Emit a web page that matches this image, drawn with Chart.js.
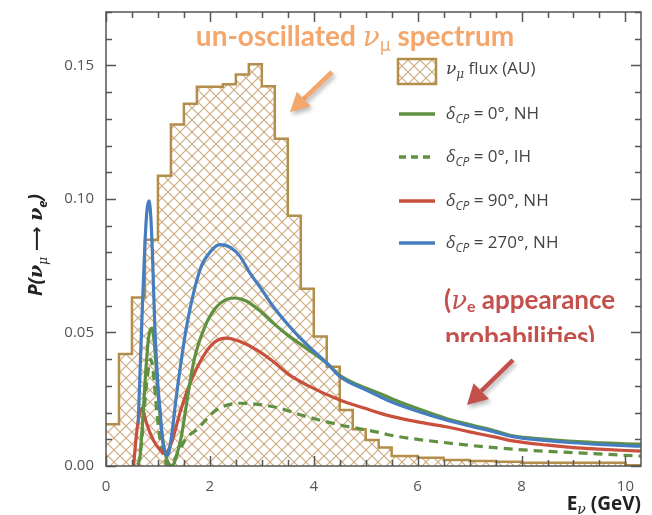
<!DOCTYPE html>
<html><head><meta charset="utf-8">
<script src="https://cdn.jsdelivr.net/npm/chart.js@4/dist/chart.umd.min.js"></script>
<style>html,body{margin:0;padding:0;background:#fff}</style>
</head><body>
<canvas id="c" width="652" height="515"></canvas>
<script>
// ---------- data ----------
const fluxBinEdges = [0,0.25,0.5,0.75,1.0,1.25,1.5,1.75,2.0,2.25,2.5,2.75,3.0,3.25,3.5,3.75,4.0,4.25,4.5,4.75,5.0,5.25,5.5,6.0,6.5,7.0,7.5,8.0,10.0,10.3];
const fluxValues   = [0.0156,0.0419,0.0631,0.0847,0.1087,0.1279,0.1356,0.1420,0.1420,0.1429,0.1466,0.1504,0.1422,0.1225,0.0937,0.0664,0.0485,0.0372,0.0210,0.0138,0.0097,0.0069,0.0037,0.0031,0.0022,0.0019,0.0016,0.0012,0.0003];

const energy270NH = [0.62,0.686,0.75,0.79,0.827,0.86,0.897,0.94,1.0,1.04,1.09,1.19,1.26,1.36,1.55,1.81,2.0,2.19,2.4,2.58,2.77,3.0,3.22,3.5,3.86,4.28,4.5,5.0,5.27,5.5,6.0,6.55,7.0,7.5,7.83,8.5,9.0,9.5,10.0,10.3];
const prob270NH   = [0.016,0.052,0.0835,0.096,0.0993,0.094,0.078,0.052,0.030,0.021,0.0094,0.0041,0.011,0.027,0.052,0.0735,0.080,0.0829,0.0818,0.0785,0.0723,0.066,0.0597,0.053,0.0455,0.038,0.0335,0.0285,0.026,0.0240,0.0205,0.0172,0.0150,0.0127,0.0110,0.0095,0.0087,0.0081,0.0076,0.0074];

const energy0NH = [0.65,0.70,0.76,0.82,0.88,0.93,0.98,1.04,1.1,1.18,1.28,1.36,1.45,1.58,1.7,1.9,2.1,2.3,2.48,2.7,3.0,3.22,3.5,3.86,4.28,4.5,5.0,5.27,5.5,6.0,6.55,7.0,7.5,7.83,8.5,9.0,9.5,10.0,10.3];
const prob0NH   = [0.002,0.015,0.034,0.048,0.0516,0.046,0.033,0.019,0.009,0.002,0.0,0.004,0.011,0.027,0.040,0.052,0.059,0.0622,0.0629,0.0618,0.0575,0.0535,0.049,0.0440,0.038,0.0340,0.0292,0.0272,0.0252,0.0215,0.0178,0.0155,0.0131,0.0113,0.0100,0.0092,0.0087,0.0083,0.0082];

const energy0IH = [0.62,0.68,0.74,0.80,0.86,0.91,0.97,1.04,1.12,1.19,1.3,1.39,1.55,1.74,2.13,2.58,3.22,3.86,4.5,5.27,5.46,6.55,7.83,9.0,10.3];
const prob0IH   = [0.0,0.008,0.022,0.034,0.040,0.035,0.022,0.010,0.003,0.0,0.002,0.005,0.0105,0.0135,0.021,0.0235,0.0222,0.0185,0.0154,0.0125,0.0116,0.0087,0.0063,0.0050,0.0037];

const energy90NH = [0.53,0.59,0.64,0.69,0.74,0.78,0.91,1.04,1.13,1.26,1.42,1.62,1.87,2.1,2.32,2.58,2.9,3.22,3.5,3.86,4.5,5.0,5.27,5.5,6.0,6.55,7.0,7.5,7.83,8.5,9.0,9.5,10.0,10.3];
const prob90NH   = [0.0,0.0124,0.019,0.0216,0.019,0.016,0.0097,0.006,0.0047,0.0086,0.0197,0.031,0.041,0.0465,0.0479,0.0466,0.0435,0.0391,0.0345,0.0304,0.0247,0.0215,0.0198,0.0186,0.0165,0.0147,0.0128,0.0108,0.0094,0.0078,0.0069,0.0063,0.0058,0.0056];

const yTickLabels = ['0.00','0.05','0.10','0.15'];
const xTickLabels = ['0','2','4','6','8','10'];
const legendLabels = ['flux (AU)', '= 0°, NH', '= 0°, IH', '= 90°, NH', '= 270°, NH'];

// ---------- helpers ----------
const pts = (xs, ys) => xs.map((x, i) => ({x, y: ys[i]}));
function histPoints(edges, vals){
  const p = vals.map((v, i) => ({x: edges[i], y: v}));
  p.push({x: edges[edges.length-1], y: vals[vals.length-1]});
  return p;
}
const C = {
  flux:'#b38e4a', hatch:'#caa97c', green:'#5f9141', red:'#c8503c', blue:'#467dbe'
};
const canvas = document.getElementById('c');
const ctx0 = canvas.getContext('2d');
function makeHatch(){
  const s = 12, c = document.createElement('canvas');
  c.width = c.height = s;
  const g = c.getContext('2d');
  g.strokeStyle = C.hatch; g.lineWidth = 1.1;
  g.beginPath();
  g.moveTo(-1,-1); g.lineTo(s+1,s+1);
  g.moveTo(s+1,-1); g.lineTo(-1,s+1);
  g.stroke();
  return ctx0.createPattern(c, 'repeat');
}
const hatch = makeHatch();

function runsWidth(ctx, runs){
  let w = 0;
  for (const r of runs){ ctx.font = r.font; w += ctx.measureText(r.t).width; }
  return w;
}
function drawRuns(ctx, runs, x, y, align){
  const w = runsWidth(ctx, runs);
  let cx = align === 'right' ? x - w : align === 'center' ? x - w/2 : x;
  for (const r of runs){
    ctx.font = r.font;
    ctx.fillText(r.t, cx, y + (r.dy || 0));
    cx += ctx.measureText(r.t).width;
  }
}
function arrow(ctx, x1, y1, x2, y2, color, w, hl, hw){
  const a = Math.atan2(y2-y1, x2-x1);
  const bx = x2 - hl*Math.cos(a), by = y2 - hl*Math.sin(a);
  ctx.save();
  ctx.shadowColor = 'rgba(0,0,0,0.28)'; ctx.shadowBlur = 4; ctx.shadowOffsetX = 2; ctx.shadowOffsetY = 3;
  ctx.strokeStyle = color; ctx.fillStyle = color; ctx.lineWidth = w;
  ctx.beginPath(); ctx.moveTo(x1, y1); ctx.lineTo(bx, by); ctx.stroke();
  ctx.beginPath();
  ctx.moveTo(x2, y2);
  ctx.lineTo(bx + hw*Math.sin(a), by - hw*Math.cos(a));
  ctx.lineTo(bx - hw*Math.sin(a), by + hw*Math.cos(a));
  ctx.closePath(); ctx.fill();
  ctx.restore();
}

const deco = {
  id: 'deco',
  afterDraw(chart){
    const {ctx, chartArea: a, scales: {x, y}} = chart;
    ctx.save();
    // frame
    ctx.strokeStyle = '#555'; ctx.lineWidth = 1.5;
    ctx.strokeRect(a.left, a.top, a.right - a.left, a.bottom - a.top);
    // inward ticks on all sides
    ctx.beginPath();
    y.ticks.forEach(t => {
      const n = Math.round(t.value*100);
      if (Math.abs(t.value*100 - n) > 1e-6) return;
      const len = n % 5 === 0 ? 10 : 6;
      const py = Math.round(y.getPixelForValue(t.value)) + 0.5;
      ctx.moveTo(a.left, py); ctx.lineTo(a.left + len, py);
      ctx.moveTo(a.right, py); ctx.lineTo(a.right - len, py);
    });
    x.ticks.forEach(t => {
      const n = Math.round(t.value*2);
      if (Math.abs(t.value*2 - n) > 1e-6) return;
      const len = n % 4 === 0 ? 10 : 6;
      const px = Math.round(x.getPixelForValue(t.value)) + 0.5;
      ctx.moveTo(px, a.bottom); ctx.lineTo(px, a.bottom - len);
      ctx.moveTo(px, a.top); ctx.lineTo(px, a.top + len);
    });
    ctx.stroke();

    // legend
    const lx1 = 399, lx2 = 435, tx = 446;
    const rows = [69, 114, 157, 201, 243];
    ctx.fillStyle = hatch;
    ctx.fillRect(398, 59, 38, 25);
    ctx.strokeStyle = C.flux; ctx.lineWidth = 2.5;
    ctx.strokeRect(398, 59, 38, 25);
    const styles = [null, {c:C.green}, {c:C.green, d:[7,5]}, {c:C.red}, {c:C.blue}];
    for (let i = 1; i < 5; i++){
      ctx.strokeStyle = styles[i].c; ctx.lineWidth = 3.5;
      ctx.setLineDash(styles[i].d || []);
      ctx.beginPath(); ctx.moveTo(lx1, rows[i]); ctx.lineTo(lx2, rows[i]); ctx.stroke();
    }
    ctx.setLineDash([]);
    ctx.fillStyle = '#444'; ctx.textBaseline = 'alphabetic';
    const F = 17, fam = '"Open Sans"';
    drawRuns(ctx, [
      {t:'ν', font:`italic ${F}px "DejaVu Serif"`},
      {t:'μ', font:`italic ${F-5}px "DejaVu Serif"`, dy:4},
      {t:' ' + legendLabels[0], font:`${F}px ${fam}`}
    ], tx, rows[0] + 5, 'left');
    for (let i = 1; i < 5; i++){
      drawRuns(ctx, [
        {t:'δ', font:`italic ${F}px ${fam}`},
        {t:'CP', font:`italic ${F-5}px ${fam}`, dy:4},
        {t:' ' + legendLabels[i], font:`${F}px ${fam}`}
      ], tx, rows[i] + 5, 'left');
    }

    // axis titles
    ctx.fillStyle = '#222';
    drawRuns(ctx, [
      {t:'E', font:`bold 19px ${fam}`},
      {t:'ν', font:`italic 14px "DejaVu Serif"`, dy:4},
      {t:' (GeV)', font:`bold 19px ${fam}`}
    ], 641, 510, 'right');
    ctx.save();
    ctx.translate(42, 245); ctx.rotate(-Math.PI/2);
    drawRuns(ctx, [
      {t:'P(', font:`bold italic 19px ${fam}`},
      {t:'ν', font:`bold italic 19px "DejaVu Serif"`},
      {t:'μ', font:`italic 12px "DejaVu Serif"`, dy:5},
      {t:' ⟶ ', font:`bold 17px "DejaVu Sans"`},
      {t:'ν', font:`bold italic 19px "DejaVu Serif"`},
      {t:'e', font:`bold italic 13px ${fam}`, dy:5},
      {t:')', font:`bold italic 19px ${fam}`}
    ], 0, 0, 'center');
    ctx.restore();

    // annotations
    ctx.fillStyle = '#f5a66b';
    drawRuns(ctx, [
      {t:'un-oscillated ', font:'bold 28px Lato'},
      {t:'ν', font:'italic 28px "DejaVu Serif"'},
      {t:'μ', font:'17px "DejaVu Sans"', dy:5},
      {t:' spectrum', font:'bold 28px Lato'}
    ], 355, 46, 'center');
    arrow(ctx, 332, 72, 290, 112, '#f5a66b', 4.5, 19, 10);

    ctx.fillStyle = '#c4504c';
    drawRuns(ctx, [
      {t:'(', font:'bold 26px Lato'},
      {t:'ν', font:'italic 26px "DejaVu Serif"'},
      {t:'e', font:'bold 16px Lato', dy:3},
      {t:' appearance', font:'bold 26px Lato'}
    ], 444, 309, 'left');
    ctx.save();
    ctx.beginPath(); ctx.rect(400, 312, 240, 30); ctx.clip();
    drawRuns(ctx, [{t:'probabilities)', font:'bold 26px Lato'}], 445, 346, 'left');
    ctx.restore();
    arrow(ctx, 513, 360, 467, 405, '#c4504c', 4.5, 20, 11);
    ctx.restore();
  }
};

new Chart(canvas, {
  type: 'line',
  data: {
    datasets: [
      {label:'270NH', data: pts(energy270NH, prob270NH), borderColor:C.blue, borderWidth:3.2, pointRadius:0, fill:false, cubicInterpolationMode:'monotone'},
      {label:'0NH', data: pts(energy0NH, prob0NH), borderColor:C.green, borderWidth:3.2, pointRadius:0, fill:false, cubicInterpolationMode:'monotone'},
      {label:'90NH', data: pts(energy90NH, prob90NH), borderColor:C.red, borderWidth:3.2, pointRadius:0, fill:false, cubicInterpolationMode:'monotone'},
      {label:'0IH', data: pts(energy0IH, prob0IH), borderColor:C.green, borderWidth:3.2, borderDash:[9,6], pointRadius:0, fill:false, cubicInterpolationMode:'monotone'},
      {label:'flux', data: histPoints(fluxBinEdges, fluxValues), borderColor:C.flux, borderWidth:2.5, backgroundColor:hatch, fill:'origin', stepped:'before', pointRadius:0}
    ]
  },
  options: {
    responsive:false, animation:false,
    layout:{padding:{top:12, right:11, left:0, bottom:0}},
    plugins:{legend:{display:false}, tooltip:{enabled:false}},
    scales:{
      x:{type:'linear', min:0, max:10.3,
        afterFit(s){ s.height = 49; s.paddingLeft = 0; s.paddingRight = 0; },
        grid:{display:false, drawTicks:false}, border:{display:false},
        ticks:{stepSize:0.5, includeBounds:false, autoSkip:false, maxRotation:0, padding:12, color:'#555',
          font:{family:'Open Sans', size:15},
          callback:(v) => { const n = Math.round(v); return (Math.abs(v-n) < 1e-9 && n % 2 === 0) ? xTickLabels[n/2] : ''; }}},
      y:{type:'linear', min:0, max:0.17,
        afterFit(s){ s.width = 106; s.paddingTop = 0; s.paddingBottom = 0; },
        grid:{display:false, drawTicks:false}, border:{display:false},
        ticks:{stepSize:0.01, autoSkip:false, padding:12, color:'#555',
          font:{family:'Open Sans', size:15},
          callback:(v) => { const n = Math.round(v*100); return (Math.abs(v*100-n) < 1e-6 && n % 5 === 0) ? yTickLabels[n/5] : ''; }}}
    }
  },
  plugins:[deco]
});
</script>
</body></html>
